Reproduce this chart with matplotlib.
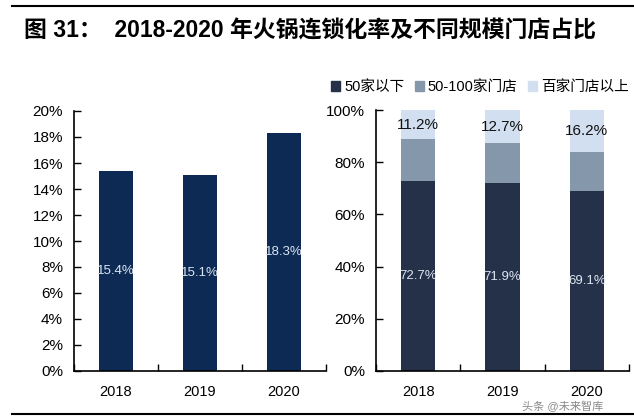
import matplotlib.pyplot as plt
from matplotlib.lines import Line2D
from matplotlib.patches import Patch

plt.rcParams['font.family'] = ['Liberation Sans', 'Noto Sans CJK SC', 'DejaVu Sans']

# data
years = ['2018', '2019', '2020']
chain_rate = [15.4, 15.1, 18.3]
under_50 = [72.7, 71.9, 69.1]
mid_50_100 = [16.1, 15.4, 14.7]
over_100 = [11.2, 12.7, 16.2]
legend_labels = ['50家以下', '50-100家门店', '百家门店以上']
title = '图 31：  2018-2020 年火锅连锁化率及不同规模门店占比'

W, H = 634, 416
fig = plt.figure(figsize=(W / 100, H / 100), dpi=100)

def px_axes(x0, x1, ytop, ybot):
    return fig.add_axes([x0 / W, 1 - ybot / H, (x1 - x0) / W, (ybot - ytop) / H])

def style_axes(ax):
    for s in ['top', 'right']:
        ax.spines[s].set_visible(False)
    for s in ['left', 'bottom']:
        ax.spines[s].set_linewidth(1.2)
    ax.set_xlim(-0.5, 2.5)
    ax.set_xticks(range(3))
    ax.set_xticklabels(years, fontsize=10.5)
    ax.set_xticks([-0.5, 0.5, 1.5, 2.5], minor=True)
    ax.tick_params(axis='x', which='major', length=0, pad=10)
    ax.tick_params(axis='x', which='minor', direction='in', length=5, width=1)
    ax.tick_params(axis='y', direction='in', length=5, width=1, labelsize=11, pad=8)

# left: chain rate
ax1 = px_axes(74, 326, 111, 371)
x = range(len(years))
ax1.bar(x, chain_rate, width=0.4, color='#0d2a55')
for xi, v in zip(x, chain_rate):
    ax1.text(xi, v / 2, f'{v}%', ha='center', va='center', color='#dce6f2', fontsize=9.5)
ax1.set_ylim(0, 20)
ax1.set_yticks(range(0, 21, 2))
ax1.set_yticklabels([f'{t}%' for t in range(0, 21, 2)])
style_axes(ax1)

# right: store size share
ax2 = px_axes(376, 629, 110, 371)
c1, c2, c3 = '#243149', '#8597ab', '#d2dff0'
ax2.bar(x, under_50, width=0.41, color=c1)
ax2.bar(x, mid_50_100, width=0.41, bottom=under_50, color=c2)
bot3 = [a + b for a, b in zip(under_50, mid_50_100)]
ax2.bar(x, over_100, width=0.41, bottom=bot3, color=c3)
for xi, a, b, c in zip(x, under_50, bot3, over_100):
    ax2.text(xi, a / 2, f'{a}%', ha='center', va='center', color='#dce6f2', fontsize=9.5)
    ax2.text(xi, b + c / 2, f'{c}%', ha='center', va='center', color='#111111', fontsize=11)
ax2.set_ylim(0, 100)
ax2.set_yticks(range(0, 101, 20))
ax2.set_yticklabels([f'{t}%' for t in range(0, 101, 20)])
style_axes(ax2)

handles = [Patch(color=c) for c in (c1, c2, c3)]
fig.legend(handles, legend_labels, loc='center', bbox_to_anchor=(480 / W, 1 - 87 / H),
           ncol=3, frameon=False, fontsize=10.5, handlelength=0.6, handleheight=0.7,
           handletextpad=0.3, columnspacing=0.7)

# title and frame lines
fig.text(24 / W, 1 - 31 / H, title, fontsize=16.5, fontweight='bold', va='center', ha='left')
fig.add_artist(Line2D([12 / W, 1], [1 - 6 / H, 1 - 6 / H], color='black', lw=1.5))
fig.add_artist(Line2D([12 / W, 1], [1 - 414 / H, 1 - 414 / H], color='black', lw=1.5))

# watermark (kept just below the year labels)
fig.text(522 / W, 1 - 406 / H, '头条 @未来智库', fontsize=8, color='#8a8a8a', va='center', ha='left')

fig.savefig('out.png', dpi=100)
